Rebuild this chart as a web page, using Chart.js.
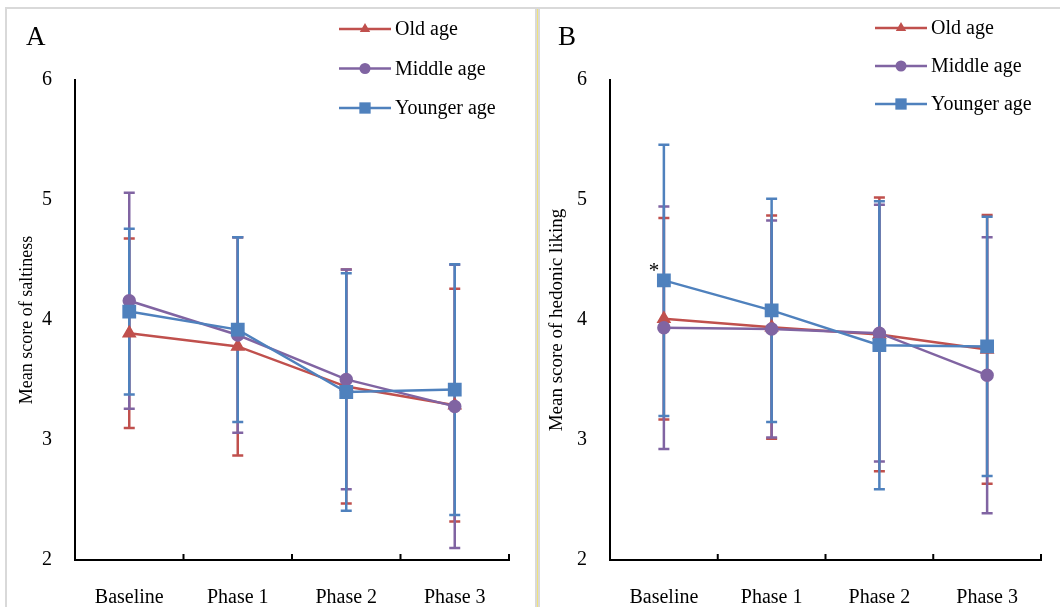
<!DOCTYPE html>
<html>
<head>
<meta charset="utf-8">
<script src="https://cdn.jsdelivr.net/npm/chart.js@4.4.1/dist/chart.umd.min.js"></script>
<style>
body { margin: 0; background: #fff; }
#wrap { position: relative; width: 1060px; height: 607px; overflow: hidden; }
.frame { position: absolute; background: #d9d9d9; }
canvas { position: absolute; top: 0; }
</style>
</head>
<body>
<div id="wrap">
  <div class="frame" style="left:5px;top:7px;width:1055px;height:2px"></div>
  <div class="frame" style="left:5px;top:7px;width:2px;height:600px"></div>
  <div class="frame" style="left:535px;top:7px;width:5px;height:600px"></div>
  <div style="position:absolute;left:537px;top:9px;width:1px;height:598px;background:#f0e27a"></div>
  <canvas id="chartA" width="530" height="607" style="left:0"></canvas>
  <canvas id="chartB" width="530" height="607" style="left:530px"></canvas>
</div>
<script>
// カテゴリ
const phases = ['Baseline', 'Phase 1', 'Phase 2', 'Phase 3'];
const groups = ['Old age', 'Middle age', 'Younger age'];
const yTicks = [2, 3, 4, 5, 6];

// A: 塩味の平均スコア（平均と標準偏差）
const saltOld = [3.89, 3.78, 3.445, 3.29];
const saltOldSd = [0.79, 0.91, 0.975, 0.97];
const saltMiddle = [4.16, 3.875, 3.505, 3.28];
const saltMiddleSd = [0.90, 0.815, 0.915, 1.18];
const saltYoung = [4.07, 3.92, 3.40, 3.42];
const saltYoungSd = [0.69, 0.77, 0.99, 1.045];

// B: 嗜好性の平均スコア
const likeOld = [4.01, 3.94, 3.88, 3.755];
const likeOldSd = [0.84, 0.93, 1.14, 1.12];
const likeMiddle = [3.935, 3.925, 3.89, 3.54];
const likeMiddleSd = [1.01, 0.905, 1.07, 1.15];
const likeYoung = [4.33, 4.08, 3.79, 3.78];
const likeYoungSd = [1.13, 0.93, 1.20, 1.08];

const colors = ['#C0504D', '#8064A2', '#4F81BD'];
const styles = ['triangle', 'circle', 'rect'];
const radii = [6, 5.5, 8];

Chart.defaults.font.family = '"Liberation Serif", "Times New Roman", serif';
Chart.defaults.color = '#000';

function markerPath(ctx, style, x, y, r) {
    ctx.beginPath();
    if (style === 'triangle') {
        ctx.moveTo(x, y - r);
        ctx.lineTo(x + r * 0.866, y + r * 0.5);
        ctx.lineTo(x - r * 0.866, y + r * 0.5);
        ctx.closePath();
    } else if (style === 'circle') {
        ctx.arc(x, y, r, 0, Math.PI * 2);
    } else {
        const s = r * Math.SQRT1_2;
        ctx.rect(x - s, y - s, 2 * s, 2 * s);
    }
    ctx.fill();
}

//エラーバー（平均±SD）
const errorBars = {
    id: 'errorBars',
    beforeDatasetsDraw(chart) {
        const ctx = chart.ctx, ys = chart.scales.y;
        chart.data.datasets.forEach((ds, i) => {
            const meta = chart.getDatasetMeta(i);
            ctx.save();
            ctx.strokeStyle = ds.borderColor;
            ctx.lineWidth = 2.5;
            meta.data.forEach((pt, j) => {
                const top = ys.getPixelForValue(ds.data[j] + ds.sd[j]);
                const bot = ys.getPixelForValue(ds.data[j] - ds.sd[j]);
                ctx.beginPath();
                ctx.moveTo(pt.x, top); ctx.lineTo(pt.x, bot);
                ctx.moveTo(pt.x - 5.5, top); ctx.lineTo(pt.x + 5.5, top);
                ctx.moveTo(pt.x - 5.5, bot); ctx.lineTo(pt.x + 5.5, bot);
                ctx.stroke();
            });
            ctx.restore();
        });
    }
};

//パネル文字、凡例、内向き目盛り、アスタリスク
const panelDeco = {
    id: 'panelDeco',
    afterDraw(chart, args, opts) {
        const ctx = chart.ctx, xs = chart.scales.x, ys = chart.scales.y;
        ctx.save();
        // inner tick marks on x axis
        ctx.strokeStyle = '#000';
        ctx.lineWidth = 2;
        for (let i = 0; i <= phases.length; i++) {
            const x = xs.getPixelForValue(i - 0.5);
            ctx.beginPath();
            ctx.moveTo(x, ys.bottom);
            ctx.lineTo(x, ys.bottom - 6);
            ctx.stroke();
        }
        // panel letter
        ctx.fillStyle = '#000';
        ctx.font = '27px "Liberation Serif", serif';
        ctx.textBaseline = 'alphabetic';
        ctx.fillText(opts.letter, opts.letterX, 45);
        // legend
        ctx.font = '20px "Liberation Serif", serif';
        ctx.textBaseline = 'middle';
        chart.data.datasets.forEach((ds, i) => {
            const y = opts.legendY + i * opts.legendGap;
            const x0 = opts.legendX;
            ctx.strokeStyle = ds.borderColor;
            ctx.lineWidth = 2.5;
            ctx.beginPath();
            ctx.moveTo(x0, y); ctx.lineTo(x0 + 52, y);
            ctx.stroke();
            ctx.fillStyle = ds.borderColor;
            markerPath(ctx, ds.pointStyle, x0 + 26, y, ds.pointRadius);
            ctx.fillStyle = '#000';
            ctx.fillText(ds.label, x0 + 56, y + 1);
        });
        // significance mark
        if (opts.star) {
            const ds = chart.data.datasets[opts.star.dataset];
            const x = xs.getPixelForValue(opts.star.index) - 10;
            const y = ys.getPixelForValue(ds.data[opts.star.index]) - 3;
            ctx.textBaseline = 'alphabetic';
            ctx.textAlign = 'center';
            ctx.font = '21px "Liberation Serif", serif';
            ctx.fillText('*', x, y);
        }
        ctx.restore();
    }
};

function makeChart(id, means, sds, title, titleSize, yWidth, padRight, deco) {
    return new Chart(document.getElementById(id), {
        type: 'line',
        data: {
            labels: phases,
            datasets: means.map((m, i) => ({
                label: groups[i],
                data: m,
                sd: sds[i],
                borderColor: colors[i],
                backgroundColor: colors[i],
                pointBackgroundColor: colors[i],
                pointBorderColor: colors[i],
                pointStyle: styles[i],
                pointRadius: radii[i],
                borderWidth: 2.5,
                tension: 0,
                order: 3 - i
            }))
        },
        options: {
            responsive: false,
            animation: false,
            devicePixelRatio: 1,
            layout: { padding: { top: 80, right: padRight, left: 0, bottom: 0 } },
            plugins: {
                legend: { display: false },
                tooltip: { enabled: false },
                panelDeco: deco
            },
            scales: {
                x: {
                    offset: true,
                    grid: { display: false, drawTicks: false },
                    border: { display: true, color: '#000', width: 2 },
                    ticks: { padding: 26, maxRotation: 0, font: { size: 20 } },
                    afterFit: s => { s.height = 47; }
                },
                y: {
                    min: yTicks[0],
                    max: yTicks[yTicks.length - 1],
                    afterBuildTicks: s => { s.ticks = yTicks.map(v => ({ value: v })); },
                    grid: { display: false, drawTicks: false },
                    border: { display: true, color: '#000', width: 2 },
                    ticks: { padding: 23, font: { size: 20 } },
                    title: {
                        display: true,
                        text: title,
                        font: { size: titleSize },
                        padding: { top: 16, bottom: 0 }
                    },
                    afterFit: s => { s.width = yWidth; }
                }
            }
        },
        plugins: [errorBars, panelDeco]
    });
}

makeChart('chartA',
    [saltOld, saltMiddle, saltYoung],
    [saltOldSd, saltMiddleSd, saltYoungSd],
    'Mean score of saltiness', 18, 75, 21,
    { letter: 'A', letterX: 26, legendX: 339, legendY: 29, legendGap: 39.5 });

makeChart('chartB',
    [likeOld, likeMiddle, likeYoung],
    [likeOldSd, likeMiddleSd, likeYoungSd],
    'Mean score of hedonic liking', 19, 80, 19,
    { letter: 'B', letterX: 28, legendX: 345, legendY: 28, legendGap: 38,
      star: { dataset: 2, index: 0 } });
</script>
</body>
</html>
